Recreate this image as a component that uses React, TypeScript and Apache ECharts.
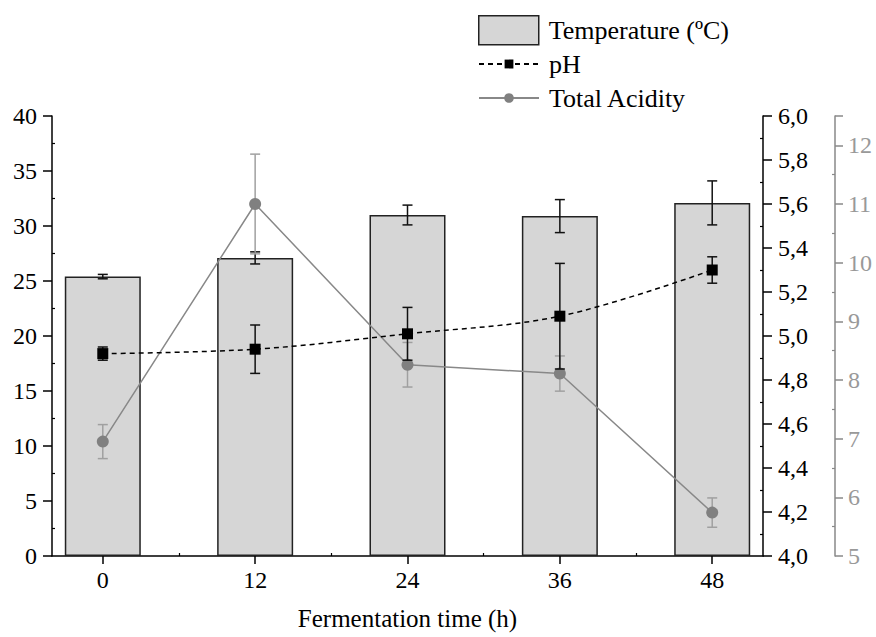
import React, { useEffect, useRef } from "react";
import * as echarts from "echarts";

const hours = [0, 12, 24, 36, 48];
const temperature = [25.4, 27.1, 31.0, 30.9, 32.1];
const temperatureErr = [0.2, 0.55, 0.9, 1.5, 2.0];
const ph = [4.92, 4.94, 5.01, 5.09, 5.3];
const phErr = [0.03, 0.11, 0.12, 0.24, 0.06];
const acidity = [6.95, 11.0, 8.26, 8.11, 5.74];
const acidityErr = [0.29, 0.85, 0.38, 0.3, 0.25];
const minorHours = [6, 18, 30, 42];

const FONT = "'Liberation Serif', 'Times New Roman', Times, serif";

function errRender(color: string) {
  return (params: any, api: any) => {
    const x = api.value(0);
    const y = api.value(1);
    const e = api.value(2);
    const hi = api.coord([x, y + e]);
    const lo = api.coord([x, y - e]);
    const w = 5;
    const st = { stroke: color, lineWidth: 1.5 };
    return {
      type: "group",
      children: [
        { type: "line", shape: { x1: hi[0], y1: hi[1], x2: lo[0], y2: lo[1] }, style: st },
        { type: "line", shape: { x1: hi[0] - w, y1: hi[1], x2: hi[0] + w, y2: hi[1] }, style: st },
        { type: "line", shape: { x1: lo[0] - w, y1: lo[1], x2: lo[0] + w, y2: lo[1] }, style: st },
      ],
    };
  };
}

export default function App() {
  const ref = useRef<HTMLDivElement>(null);
  useEffect(() => {
    if (!ref.current) return;
    const chart = echarts.init(ref.current, undefined, { renderer: "svg" });
    const textStyle = { fontFamily: FONT, fontSize: 26, color: "#000", padding: [0, 0, 0, 5] };
    chart.setOption({
      animation: false,
      textStyle: { fontFamily: FONT },
      grid: { left: 52, right: 113, top: 116, bottom: 81, containLabel: false },
      legend: [
        {
          data: ["Temperature (ºC)"],
          left: 478,
          top: 15,
          padding: 0,
          itemWidth: 60,
          itemHeight: 29,
          icon: "rect",
          itemStyle: { color: "#d6d6d6", borderColor: "#222", borderWidth: 1.5 },
          textStyle,
          selectedMode: false,
        },
        {
          data: ["pH"],
          left: 478,
          top: 51,
          padding: 0,
          itemWidth: 60,
          itemHeight: 11,
          textStyle,
          selectedMode: false,
        },
        {
          data: ["Total Acidity"],
          left: 478,
          top: 85,
          padding: 0,
          itemWidth: 60,
          itemHeight: 12,
          textStyle,
          selectedMode: false,
        },
      ],
      xAxis: [
        {
          type: "value",
          min: -4,
          max: 52,
          name: "Fermentation time (h)",
          nameLocation: "middle",
          nameGap: 50,
          nameTextStyle: { fontFamily: FONT, fontSize: 25, color: "#000" },
          axisLine: { show: true, onZero: false, lineStyle: { color: "#000", width: 1.5 } },
          axisTick: { show: true, length: 8, lineStyle: { color: "#000", width: 1.5 }, customValues: hours },
          axisLabel: { fontFamily: FONT, fontSize: 24, color: "#000", margin: 12, customValues: hours },
          splitLine: { show: false },
        },
        {
          type: "value",
          min: -4,
          max: 52,
          position: "bottom",
          axisLine: { show: false, onZero: false },
          axisTick: { show: true, inside: true, length: 3, lineStyle: { color: "#000", width: 1.2 }, customValues: minorHours },
          axisLabel: { show: false },
          splitLine: { show: false },
        },
      ],
      yAxis: [
        {
          type: "value",
          min: 0,
          max: 40,
          interval: 5,
          position: "left",
          axisLine: { show: true, onZero: false, lineStyle: { color: "#000", width: 1.5 } },
          axisTick: { show: true, length: 9, lineStyle: { color: "#000", width: 1.5 } },
          minorTick: { show: true, splitNumber: 2, length: -3, lineStyle: { color: "#000", width: 1.2 } },
          axisLabel: { fontFamily: FONT, fontSize: 24, color: "#000", margin: 15 },
          splitLine: { show: false },
        },
        {
          type: "value",
          min: 4,
          max: 6,
          interval: 0.2,
          position: "right",
          axisLine: { show: true, onZero: false, lineStyle: { color: "#000", width: 1.5 } },
          axisTick: { show: true, length: 9, lineStyle: { color: "#000", width: 1.5 } },
          minorTick: { show: true, splitNumber: 2, length: -3, lineStyle: { color: "#000", width: 1.2 } },
          axisLabel: {
            fontFamily: FONT,
            fontSize: 24,
            color: "#000",
            margin: 15,
            formatter: (v: number) => v.toFixed(1).replace(".", ","),
          },
          splitLine: { show: false },
        },
        {
          type: "value",
          min: 5,
          max: 12.5,
          interval: 1,
          position: "right",
          offset: 72,
          axisLine: { show: true, onZero: false, lineStyle: { color: "#888", width: 1.5 } },
          axisTick: { show: true, length: 8, lineStyle: { color: "#888", width: 1.5 } },
          minorTick: { show: true, splitNumber: 2, length: -3, lineStyle: { color: "#888", width: 1.2 } },
          axisLabel: {
            fontFamily: FONT,
            fontSize: 24,
            color: "#999",
            margin: 13,
            formatter: (v: number) => (Number.isInteger(v) ? String(v) : ""),
          },
          splitLine: { show: false },
        },
      ],
      series: [
        {
          name: "Temperature (ºC)",
          type: "bar",
          xAxisIndex: 0,
          yAxisIndex: 0,
          barWidth: 76,
          data: hours.map((h, i) => [h, temperature[i]]),
          itemStyle: { color: "#d6d6d6", borderColor: "#222", borderWidth: 1.5 },
          z: 2,
        },
        {
          name: "tempErr",
          type: "custom",
          xAxisIndex: 0,
          yAxisIndex: 0,
          renderItem: errRender("#111"),
          data: hours.map((h, i) => [h, temperature[i], temperatureErr[i]]),
          encode: { x: 0, y: 1 },
          z: 3,
        },
        {
          name: "acErr",
          type: "custom",
          xAxisIndex: 0,
          yAxisIndex: 2,
          renderItem: errRender("#a0a0a0"),
          data: hours.map((h, i) => [h, acidity[i], acidityErr[i]]),
          encode: { x: 0, y: 1 },
          z: 4,
        },
        {
          name: "Total Acidity",
          type: "line",
          xAxisIndex: 0,
          yAxisIndex: 2,
          data: hours.map((h, i) => [h, acidity[i]]),
          symbol: "circle",
          symbolSize: 12,
          itemStyle: { color: "#808080" },
          lineStyle: { color: "#888", width: 1.5 },
          z: 5,
        },
        {
          name: "phErr",
          type: "custom",
          xAxisIndex: 0,
          yAxisIndex: 1,
          renderItem: errRender("#111"),
          data: hours.map((h, i) => [h, ph[i], phErr[i]]),
          encode: { x: 0, y: 1 },
          z: 6,
        },
        {
          name: "pH",
          type: "line",
          xAxisIndex: 0,
          yAxisIndex: 1,
          data: hours.map((h, i) => [h, ph[i]]),
          symbol: "rect",
          symbolSize: 11,
          smooth: 0.35,
          itemStyle: { color: "#000" },
          lineStyle: { color: "#000", width: 1.5, type: [5, 4] },
          z: 7,
        },
      ],
    });
    return () => chart.dispose();
  }, []);
  return (
    <div
      ref={ref}
      style={{ position: "fixed", left: 0, top: 0, width: 876, height: 637, background: "#fff" }}
    />
  );
}
